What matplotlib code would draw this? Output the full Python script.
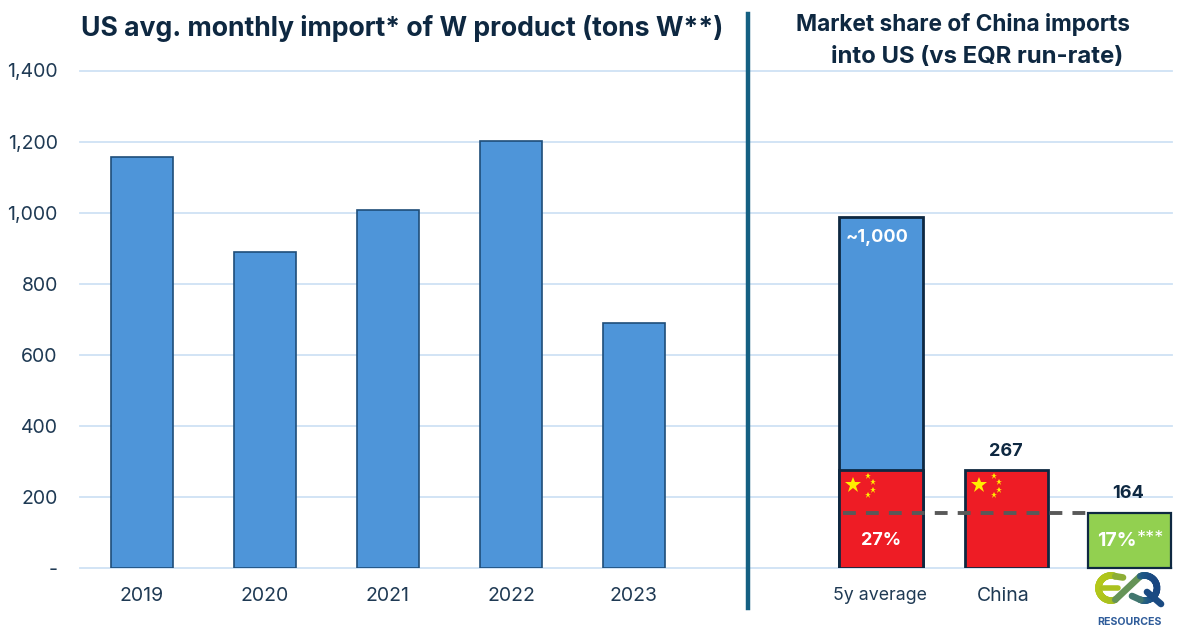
import matplotlib
matplotlib.use("Agg")
import matplotlib.pyplot as plt
import numpy as np
from matplotlib.ticker import FuncFormatter
from matplotlib.collections import LineCollection
from matplotlib.colors import LinearSegmentedColormap

plt.rcParams['font.family'] = ['Inter', 'DejaVu Sans']

W, H = 1186, 628
years = ['2019', '2020', '2021', '2022', '2023']
imports = [1157, 890, 1008, 1202, 690]
share_labels = ['5y average', 'China']
total_avg = 988
china_share = 276
eqr_share = 155
china_label = '267'
eqr_label = '164'
total_label = '~1,000'
avg_pct = '27%'
eqr_pct = '17%'
eqr_stars = '***'
yticks = [0, 200, 400, 600, 800, 1000, 1200, 1400]

NAVY = '#0e2841'
BLUE = '#4e95d9'
RED = '#ee1c25'
GREEN = '#92d050'
GRID = '#cfe2f4'
TEXT = '#1f3a54'
DIV = '#156082'

fig = plt.figure(figsize=(W/100, H/100), dpi=100)
L, R, T, B = 80, 1172, 70.5, 568
ax = fig.add_axes([L/W, 1-B/H, (R-L)/W, (B-T)/H])
ax.set_ylim(0, 1400)
ax.set_xlim(-0.504, 8.375)
for s in ax.spines.values():
    s.set_visible(False)
ax.set_axisbelow(True)
ax.yaxis.grid(True, color=GRID, lw=1.3, clip_on=False)
ax.set_yticks(yticks)
ax.yaxis.set_major_formatter(FuncFormatter(lambda v, p: '-' if v == 0 else f'{int(v):,}'))
ax.tick_params(axis='y', length=0, pad=16, labelsize=14, labelcolor=TEXT)

xl = list(range(5))
ax.bar(xl, imports, width=0.505, color=BLUE, edgecolor='#1f4e79', lw=1.2, zorder=3)

xs = [6.01, 7.03, 8.03]
ax.set_xticks(xl + [6.0, 7.0])
ax.set_xticklabels(years + share_labels)
ax.tick_params(axis='x', length=0, pad=14, labelsize=14, labelcolor=TEXT)
ax.get_xticklabels()[5].set_fontsize(12.8)

bw = 0.68
ax.bar(xs[0], total_avg, width=bw, color=BLUE, edgecolor=NAVY, lw=2, zorder=3)
ax.bar(xs[0], china_share, width=bw, color=RED, edgecolor=NAVY, lw=2, zorder=3)
ax.bar(xs[1], china_share, width=bw, color=RED, edgecolor=NAVY, lw=2, zorder=3)
ax.bar(xs[2], eqr_share, width=bw, color=GREEN, edgecolor=NAVY, lw=1.6, zorder=3, clip_on=False)

ax.plot([xs[0]-bw/2+0.03, xs[2]-bw/2], [eqr_share, eqr_share], color='#595959', lw=2.8,
        dashes=(3.3, 2.6), dash_capstyle='butt', zorder=5)

# flags
for x in xs[:2]:
    ax.plot([x-0.226], [china_share-42], marker='*', ms=12, color='#ffee00', mew=0, zorder=6, ls='none')
    ax.plot([x-0.105, x-0.065, x-0.065, x-0.105], [china_share-17, china_share-34, china_share-56, china_share-71],
            marker='*', ms=4.6, color='#ffee00', mew=0, zorder=6, ls='none')

lab = dict(weight='bold', fontsize=13, ha='center', va='center', zorder=6)
ax.text(xs[0]-0.03, total_avg-58, total_label, color='white', **lab)
ax.text(xs[0], 76, avg_pct, color='white', **lab)
ax.text(xs[2]-0.10, 76, eqr_pct, color='white', weight='bold', fontsize=14, ha='center', va='center', zorder=6)
ax.text(xs[2]+0.17, 83, eqr_stars, color='white', weight='normal', fontsize=13, ha='center', va='center', zorder=6)
ax.text(xs[1]-0.01, 328, china_label, color=NAVY, **lab)
ax.text(xs[2]-0.01, 210, eqr_label, color=NAVY, **lab)

def ftext(x, y, s, **kw):
    fig.text(x/W, 1-y/H, s, **kw)

ftext(402.5, 29, 'US avg. monthly import* of W product (tons W**)', color=NAVY, weight='bold', fontsize=19.2, ha='center', va='center')
ftext(963, 25, 'Market share of China imports', color=NAVY, weight='bold', fontsize=16.3, ha='center', va='center')
ftext(977, 57, 'into US (vs EQR run-rate)', color=NAVY, weight='bold', fontsize=17.2, ha='center', va='center')

fig.add_artist(plt.Line2D([747.5/W]*2, [1-14/H, 1-608/H], color=DIV, lw=3.2))

# logo, drawn in pixel coordinates on its own overlay
lg = fig.add_axes([0, 0, 1, 1], facecolor='none', zorder=10)
lg.set_xlim(0, W); lg.set_ylim(H, 0); lg.axis('off')
cmap = LinearSegmentedColormap.from_list('eq', ['#b4c81a', '#a8c020', '#5f8f5c', '#1f5a86', '#17407f'])
def band(px, py, lw):
    pts = np.column_stack([px, py]).reshape(-1, 1, 2)
    segs = np.concatenate([pts[:-1], pts[1:]], axis=1)
    lc = LineCollection(segs, cmap=cmap, clim=(1098, 1160), linewidths=lw, capstyle='round')
    lc.set_array(0.5*(np.array(px[:-1]) + np.array(px[1:])))
    lg.add_collection(lc)
cy, rr = 588, 12.5
t = np.radians(np.linspace(70, 290, 60))
ex, ey = 1111 + rr*np.cos(t), cy - rr*np.sin(t)
t2 = np.radians(np.linspace(110, -110, 60))
qx, qy = 1144.5 + rr*np.cos(t2), cy - rr*np.sin(t2)
band(np.r_[ex, qx], np.r_[ey, qy], 4.8)
band(np.r_[ex[0], 1123], np.r_[ey[0], 577.5], 4.8)
band(np.r_[qx[-1], 1132], np.r_[qy[-1], 596], 4.8)
band(np.r_[1102, 1118], np.r_[588, 588], 4)
band(np.r_[1147, 1161], np.r_[592, 604], 4.8)
lg.text(1129, 622, 'RESOURCES', color='#2f5c9a', weight='bold', fontsize=7.6, ha='center', va='center')

fig.savefig('out.png', dpi=100)
